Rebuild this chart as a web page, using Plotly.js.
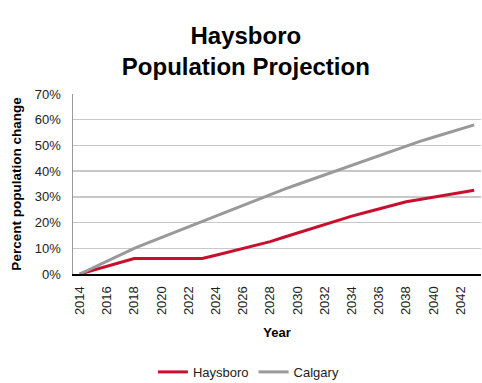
<!DOCTYPE html>
<html>
<head>
<meta charset="utf-8">
<script src="https://cdn.plot.ly/plotly-3.0.1.min.js"></script>
<style>html,body{margin:0;padding:0;background:#fff;}#chart{width:482px;height:383px;}</style>
</head>
<body>
<div id="chart"></div>
<script>
var years = [2014,2015,2016,2017,2018,2019,2020,2021,2022,2023,2024,2025,2026,2027,2028,2029,2030,2031,2032,2033,2034,2035,2036,2037,2038,2039,2040,2041,2042,2043];
var haysboro = [0,1.5,3,4.5,6,6,6,6,6,6,7.3,8.6,9.9,11.2,12.6,14.3,16.0,17.7,19.4,21.1,22.5,23.9,25.3,26.7,28.1,29.0,29.9,30.8,31.7,32.6];
var calgary = [0,2.5,5,7.5,10,12.1,14.2,16.3,18.4,20.5,22.6,24.7,26.8,28.9,31.0,32.9,34.8,36.7,38.6,40.5,42.4,44.3,46.2,48.1,50.0,51.6,53.2,54.8,56.4,58.0];
var xTicks = [2014,2016,2018,2020,2022,2024,2026,2028,2030,2032,2034,2036,2038,2040,2042];
var yTicks = [0,10,20,30,40,50,60,70];
var yTickText = ["0%","10%","20%","30%","40%","50%","60%","70%"];

var font = "Liberation Sans, Arial, sans-serif";
var traces = [
  {x: years, y: haysboro, name: "Haysboro", type: "scatter", mode: "lines",
   line: {color: "#c8102e", width: 3}},
  {x: years, y: calgary, name: "Calgary", type: "scatter", mode: "lines",
   line: {color: "#999999", width: 3}}
];
var layout = {
  width: 482, height: 383,
  margin: {l: 73, r: 1, t: 94, b: 109},
  paper_bgcolor: "#fff", plot_bgcolor: "#fff",
  font: {family: font, size: 13, color: "#222"},
  title: {text: "<b>Haysboro<br>Population Projection</b>", x: 0.51, xanchor: "center",
          y: 0.885, yanchor: "top", font: {family: font, size: 24, color: "#000"}},
  xaxis: {range: [2013.5, 2043.5], tickvals: xTicks, ticktext: xTicks.map(String),
          tickangle: -90, showgrid: false, zeroline: false, showline: true, automargin: false,
          linecolor: "#000", linewidth: 2, ticks: "", fixedrange: true, ticklabelstandoff: 5,
          tickfont: {family: font, size: 13, color: "#222"},
          title: {text: "<b>Year</b>", font: {family: font, size: 13, color: "#000"}, standoff: 14}},
  yaxis: {range: [0, 70], tickvals: yTicks, ticktext: yTickText, showgrid: true, automargin: true,
          gridcolor: "#c8c8c8", gridwidth: 1.5, zeroline: false, showline: true,
          linecolor: "#999", linewidth: 1.5, ticks: "", fixedrange: true, ticklabelstandoff: 8,
          tickfont: {family: font, size: 13, color: "#222"},
          title: {text: "<b>Percent population change</b>", font: {family: font, size: 13.5, color: "#000"}, standoff: 10}},
  legend: {orientation: "h", x: 0.43, xanchor: "center", yref: "container", y: 0.068, yanchor: "top",
           font: {family: font, size: 13, color: "#222"}},
  showlegend: true
};
Plotly.newPlot("chart", traces, layout, {displayModeBar: false, staticPlot: true});
</script>
</body>
</html>
